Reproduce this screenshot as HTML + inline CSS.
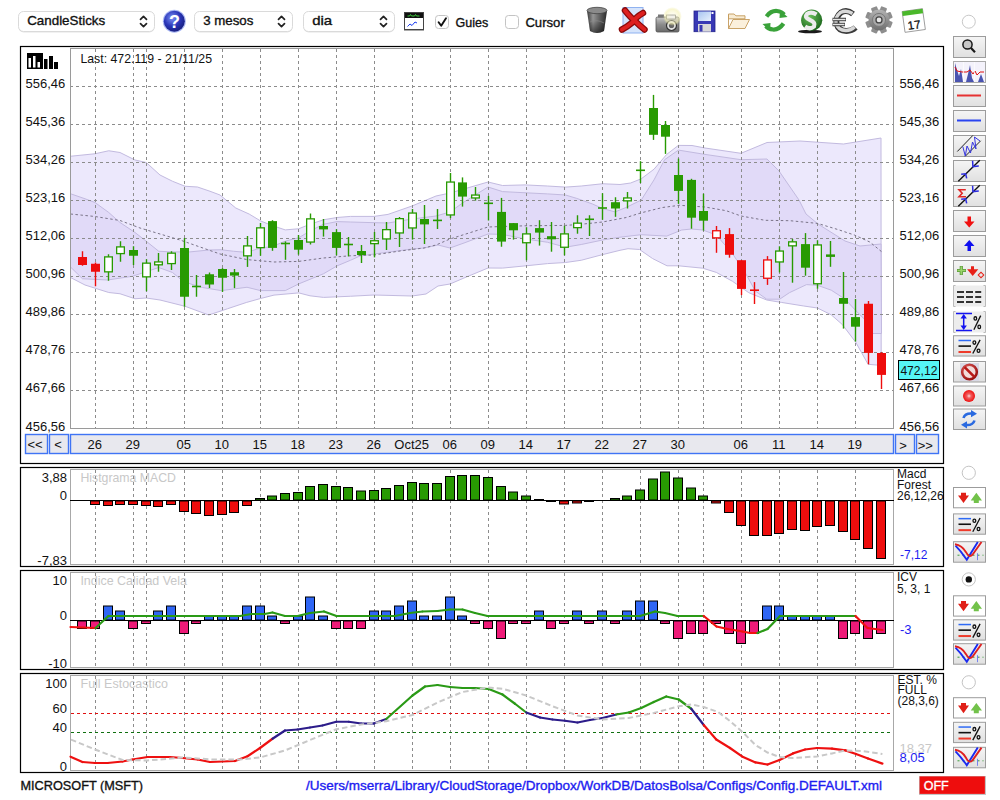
<!DOCTYPE html>
<html><head><meta charset="utf-8"><style>
html,body{margin:0;padding:0;background:#fff;width:1000px;height:800px;overflow:hidden}
svg{display:block;font-family:"Liberation Sans", sans-serif}
</style></head><body>
<svg width="1000" height="800" viewBox="0 0 1000 800">
<rect width="1000" height="800" fill="#fff"/>
<defs><radialGradient id="hg" cx="40%" cy="35%" r="70%"><stop offset="0" stop-color="#7d92f4"/><stop offset="0.55" stop-color="#2a36b8"/><stop offset="1" stop-color="#161c78"/></radialGradient><linearGradient id="btng" x1="0" y1="0" x2="0" y2="1"><stop offset="0" stop-color="#f5f5f5"/><stop offset="1" stop-color="#e0e0e0"/></linearGradient><linearGradient id="trg" x1="0" y1="0" x2="1" y2="0"><stop offset="0" stop-color="#3c3c3c"/><stop offset="0.3" stop-color="#9a9a9a"/><stop offset="0.6" stop-color="#6a6a6a"/><stop offset="1" stop-color="#2a2a2a"/></linearGradient><linearGradient id="trg2" x1="0" y1="0" x2="0" y2="1"><stop offset="0" stop-color="#000" stop-opacity="0"/><stop offset="0.5" stop-color="#000" stop-opacity="0.05"/><stop offset="1" stop-color="#000" stop-opacity="0.55"/></linearGradient><linearGradient id="camg" x1="0" y1="0" x2="0" y2="1"><stop offset="0" stop-color="#c8c8c8"/><stop offset="0.5" stop-color="#8c8c8c"/><stop offset="1" stop-color="#6a6a6a"/></linearGradient><radialGradient id="glow" cx="50%" cy="50%" r="50%"><stop offset="0" stop-color="#fffbe0" stop-opacity="0.2"/><stop offset="0.75" stop-color="#f4f0b0" stop-opacity="0.6"/><stop offset="1" stop-color="#eeea9a" stop-opacity="0"/></radialGradient><linearGradient id="flg" x1="0" y1="0" x2="1" y2="1"><stop offset="0" stop-color="#a8c4f0"/><stop offset="1" stop-color="#e8f0fc"/></linearGradient><radialGradient id="coin" cx="40%" cy="35%" r="65%"><stop offset="0" stop-color="#6ac05a"/><stop offset="1" stop-color="#1f6a1f"/></radialGradient><linearGradient id="gearg" x1="0" y1="0" x2="0" y2="1"><stop offset="0" stop-color="#b4b4b4"/><stop offset="1" stop-color="#6e6e6e"/></linearGradient><radialGradient id="nog" cx="40%" cy="35%" r="70%"><stop offset="0" stop-color="#f07070"/><stop offset="1" stop-color="#9a1010"/></radialGradient><radialGradient id="rcg" cx="50%" cy="50%" r="50%"><stop offset="0" stop-color="#ffd8d8"/><stop offset="0.35" stop-color="#f06060"/><stop offset="1" stop-color="#ee1010"/></radialGradient></defs>
<rect x="18.5" y="12.5" width="136" height="20" rx="5" fill="#e4e4e4"/>
<rect x="18.5" y="11.5" width="136" height="20" rx="5" fill="#fff" stroke="#dadada" stroke-width="1"/>
<text x="27.2" y="25.2" font-size="13" fill="#111" textLength="78" lengthAdjust="spacingAndGlyphs" stroke="#111" stroke-width="0.35">CandleSticks</text>
<path d="M140.5,19.3 L143.5,16.3 L146.5,19.3 M140.5,23.7 L143.5,26.7 L146.5,23.7" fill="none" stroke="#222" stroke-width="1.7" stroke-linecap="round" stroke-linejoin="round"/>
<circle cx="174.3" cy="21.2" r="11.5" fill="#aab8f4"/>
<circle cx="174.3" cy="21.2" r="10.5" fill="url(#hg)"/>
<text x="174.5" y="28.2" font-size="18" font-weight="bold" fill="#fff" text-anchor="middle">?</text>
<rect x="194.5" y="12.5" width="98" height="20" rx="5" fill="#e4e4e4"/>
<rect x="194.5" y="11.5" width="98" height="20" rx="5" fill="#fff" stroke="#dadada" stroke-width="1"/>
<text x="203.2" y="25.2" font-size="13" fill="#111" textLength="50.2" lengthAdjust="spacingAndGlyphs" stroke="#111" stroke-width="0.35">3 mesos</text>
<path d="M278.5,19.3 L281.5,16.3 L284.5,19.3 M278.5,23.7 L281.5,26.7 L284.5,23.7" fill="none" stroke="#222" stroke-width="1.7" stroke-linecap="round" stroke-linejoin="round"/>
<rect x="303.5" y="12.5" width="91" height="20" rx="5" fill="#e4e4e4"/>
<rect x="303.5" y="11.5" width="91" height="20" rx="5" fill="#fff" stroke="#dadada" stroke-width="1"/>
<text x="312.2" y="25.2" font-size="13" fill="#111" textLength="20" lengthAdjust="spacingAndGlyphs" stroke="#111" stroke-width="0.35">dia</text>
<path d="M380.5,19.3 L383.5,16.3 L386.5,19.3 M380.5,23.7 L383.5,26.7 L386.5,23.7" fill="none" stroke="#222" stroke-width="1.7" stroke-linecap="round" stroke-linejoin="round"/>
<rect x="404.5" y="12.5" width="19" height="17" fill="#fff" stroke="#444" stroke-width="1"/>
<rect x="405" y="13" width="18" height="5" fill="#111"/>
<path d="M407.5,16 h2 l1,-1.5 l1,1.5 h3 l1,-1.5 l1,1.5 h3" stroke="#3ad03a" stroke-width="1" fill="none"/>
<path d="M407.5,26.5 l2.5,-2.5 l2,1.5 l3,-3.5 l2,1" stroke="#1a3cf0" stroke-width="1" fill="none"/>
<line x1="404" y1="30.5" x2="424" y2="30.5" stroke="#aaa" stroke-width="1"/>
<rect x="435.5" y="15.5" width="13" height="13" rx="3" fill="#fff" stroke="#c4c4c4" stroke-width="1"/>
<path d="M438.6,22.2 l2.6,3.6 l4.8,-7.6" stroke="#111" stroke-width="1.9" fill="none" stroke-linecap="round" stroke-linejoin="round"/>
<text x="455.6" y="26.6" font-size="13" fill="#111" textLength="32.7" lengthAdjust="spacingAndGlyphs" stroke="#111" stroke-width="0.35">Guies</text>
<rect x="505.5" y="15.5" width="13" height="13" rx="3" fill="#fff" stroke="#c4c4c4" stroke-width="1"/>
<text x="525.4" y="26.6" font-size="13" fill="#111" textLength="39.4" lengthAdjust="spacingAndGlyphs" stroke="#111" stroke-width="0.35">Cursor</text>
<path d="M587,11 Q597,6 607,11 L604,31 Q597,35 590,31 Z" fill="url(#trg)"/>
<path d="M587,11 Q597,6 607,11 L604,31 Q597,35 590,31 Z" fill="url(#trg2)"/>
<ellipse cx="597" cy="10.5" rx="10" ry="3.2" fill="#8a8a8a" stroke="#444" stroke-width="0.8"/>
<path d="M590,22 Q597,19 604,23" stroke="#888" stroke-width="1" fill="none" opacity="0.6"/>
<rect x="623" y="7.5" width="20" height="25.5" fill="#d6e4fb" stroke="#8fb2f0" stroke-width="1"/>
<path d="M625,10.5 Q631,18 635,21 Q640,26 644.5,29.5" stroke="#8a0a0a" stroke-width="6.5" stroke-linecap="round" fill="none"/>
<path d="M643,13 Q636,17 633,22 Q627,27 622,29.5" stroke="#8a0a0a" stroke-width="6.5" stroke-linecap="round" fill="none"/>
<path d="M625,10.5 Q631,18 635,21 Q640,26 644.5,29.5" stroke="#dd2020" stroke-width="4" stroke-linecap="round" fill="none"/>
<path d="M643,13 Q636,17 633,22 Q627,27 622,29.5" stroke="#dd2020" stroke-width="4" stroke-linecap="round" fill="none"/>
<rect x="656" y="17" width="23" height="15" rx="1.5" fill="url(#camg)" stroke="#555" stroke-width="0.8"/>
<rect x="658" y="14.5" width="6" height="3" fill="#777"/>
<rect x="666.5" y="15" width="9" height="4" fill="#eee" stroke="#666" stroke-width="0.7"/>
<circle cx="671.5" cy="25.5" r="5" fill="#e0e0e0" stroke="#333" stroke-width="1.2"/>
<circle cx="671.5" cy="25.5" r="2.6" fill="#666"/>
<circle cx="672.4" cy="16.5" r="9.5" fill="url(#glow)"/>
<rect x="694" y="11" width="21" height="20.7" fill="#3838b4" stroke="#22228a" stroke-width="0.8"/>
<rect x="698" y="11.5" width="13" height="9.5" fill="url(#flg)"/>
<rect x="711.5" y="12" width="2" height="2" fill="#fff"/>
<rect x="698" y="24" width="13" height="7.7" fill="#d8d8d8"/>
<rect x="699.5" y="25" width="3" height="6.5" fill="#3838b4"/>
<path d="M728.5,14 h5.5 l2,1.8 h9 v3 h-16.5 z" fill="#f8ecd4" stroke="#c49a5a" stroke-width="0.9"/>
<path d="M728.5,28.5 V15 M728.5,28.5 L733,19.5 h16.5 l-4.5,9 z" fill="#fbf0dc" stroke="#c49a5a" stroke-width="0.9"/>
<path d="M766.5,16.5 Q771,10.5 777,11 Q782,11.5 784,14.5" stroke="#3aa23a" stroke-width="4.2" fill="none"/>
<path d="M783.5,23.5 Q779,30 773,29.5 Q768,29 766,26" stroke="#3aa23a" stroke-width="4.2" fill="none"/>
<path d="M780,10 L787.5,17 L779.5,18 z" fill="#3aa23a"/><path d="M770,31 L762.5,24 L770.5,23 z" fill="#3aa23a"/>
<ellipse cx="810" cy="31.5" rx="12" ry="1.8" fill="#1a1a1a"/>
<circle cx="811.7" cy="20.2" r="10.6" fill="url(#coin)"/>
<path d="M816.5,14.5 Q811,11 807,14 Q804,17.5 810,20 Q816,22.5 814,26.5 Q810,30 805,26.5" stroke="#ececec" stroke-width="4.2" fill="none"/>
<path d="M853,14 Q847,9 841,12.5 Q835.5,17 836.5,23.5 Q838.5,31 846.5,31 Q852,31 855.5,27.5" stroke="#3a3a3a" stroke-width="6" fill="none"/>
<path d="M852.5,13.5 Q846.5,9.5 840.5,12.5 Q835,17 836,23 Q838,30.5 846,30.5 Q851,30.5 854.5,27" stroke="#d8d8d8" stroke-width="3.4" fill="none"/>
<path d="M832.5,19.5 h13.5 M832.5,24.5 h12.5" stroke="#3a3a3a" stroke-width="3.4"/>
<path d="M833,19.5 h12.5 M833,24.5 h11.5" stroke="#e4e4e4" stroke-width="1.6"/>
<rect x="875.8" y="6.199999999999999" width="6.4" height="6" rx="1" fill="#8e8e8e" transform="rotate(22.5 879 19.9)"/><rect x="875.8" y="6.199999999999999" width="6.4" height="6" rx="1" fill="#8e8e8e" transform="rotate(67.5 879 19.9)"/><rect x="875.8" y="6.199999999999999" width="6.4" height="6" rx="1" fill="#8e8e8e" transform="rotate(112.5 879 19.9)"/><rect x="875.8" y="6.199999999999999" width="6.4" height="6" rx="1" fill="#8e8e8e" transform="rotate(157.5 879 19.9)"/><rect x="875.8" y="6.199999999999999" width="6.4" height="6" rx="1" fill="#8e8e8e" transform="rotate(202.5 879 19.9)"/><rect x="875.8" y="6.199999999999999" width="6.4" height="6" rx="1" fill="#8e8e8e" transform="rotate(247.5 879 19.9)"/><rect x="875.8" y="6.199999999999999" width="6.4" height="6" rx="1" fill="#8e8e8e" transform="rotate(292.5 879 19.9)"/><rect x="875.8" y="6.199999999999999" width="6.4" height="6" rx="1" fill="#8e8e8e" transform="rotate(337.5 879 19.9)"/>
<circle cx="879" cy="19.9" r="10.5" fill="url(#gearg)"/>
<circle cx="879" cy="19.9" r="6.5" fill="#a8a8a8" stroke="#7a7a7a" stroke-width="1"/>
<circle cx="879" cy="19.9" r="3" fill="#e8e8e8" stroke="#444" stroke-width="1.3"/>
<g transform="rotate(-8 913.8 20.5)"><rect x="903.5" y="10" width="20.5" height="21" fill="#fff" stroke="#999" stroke-width="0.9"/><rect x="903.5" y="10" width="20.5" height="4.5" fill="#4ab82a"/><text x="913.5" y="29" font-size="11.5" text-anchor="middle" fill="#111" stroke="#111" stroke-width="0.3">17</text></g>
<circle cx="968.8" cy="21.7" r="6.5" fill="#fff" stroke="#c8c8c8" stroke-width="1"/>
<rect x="20.5" y="46.5" width="923" height="417" fill="#fff" stroke="#000" stroke-width="1.2"/>
<polygon points="70.50,156.25 95.00,153.75 108.75,150.75 120.00,152.50 135.00,160.00 146.25,162.50 160.00,175.00 172.50,181.25 185.00,186.25 197.50,187.00 210.00,191.25 220.00,195.00 235.75,208.00 249.25,214.10 260.50,220.90 271.75,225.40 285.25,229.90 298.75,228.75 310.00,224.25 323.50,219.75 337.00,217.50 350.50,216.40 374.00,216.40 388.00,214.40 412.00,206.00 436.00,196.00 450.00,193.00 488.00,182.00 502.50,185.50 525.00,184.90 547.50,186.00 565.50,187.10 581.25,186.00 602.60,183.75 620.00,184.50 630.60,183.00 641.25,178.80 654.00,169.20 666.70,154.40 678.40,145.40 692.00,145.50 705.00,148.00 741.00,153.30 767.00,142.50 800.00,141.00 843.50,144.00 881.00,138.00 881.20,365.40 868.10,364.30 855.75,342.25 842.30,324.50 831.30,314.90 817.50,308.00 803.75,306.00 781.30,302.40 766.70,300.00 748.80,292.70 732.50,281.30 716.30,272.40 702.80,268.20 678.50,265.80 667.00,265.80 652.50,258.50 639.50,249.50 628.00,248.70 620.00,250.30 602.60,254.60 581.25,260.25 565.50,262.50 547.50,263.60 525.00,265.90 502.50,268.10 488.00,268.00 464.00,278.00 450.00,284.00 438.00,286.00 426.00,294.00 412.00,296.00 374.00,295.00 350.50,296.25 323.50,297.40 310.00,295.80 298.75,292.90 274.00,295.10 260.50,298.50 246.25,302.50 227.50,308.75 208.75,315.00 185.00,306.25 160.00,300.00 146.25,298.00 135.00,298.75 120.00,293.75 108.75,292.50 85.00,285.00 70.50,277.50" fill="#ece8fc" stroke="#c2badf" stroke-width="1"/>
<polygon points="70.50,193.75 85.00,198.75 95.00,202.50 108.75,212.50 120.00,222.50 135.00,232.50 146.25,241.25 158.75,251.25 171.25,251.90 190.00,251.90 208.75,250.00 221.25,249.75 233.50,251.25 247.00,252.40 260.50,247.90 271.75,246.75 285.25,241.10 298.75,237.75 310.00,231.00 323.50,224.25 337.00,221.60 350.50,222.00 364.00,222.40 388.00,223.00 412.00,219.00 436.00,216.00 450.00,212.00 464.00,202.00 488.00,187.00 502.50,191.60 525.00,192.75 547.50,193.90 565.50,195.00 576.75,198.40 592.50,204.00 602.60,208.50 615.00,211.90 626.25,207.40 641.25,200.00 654.00,179.90 664.60,159.70 678.40,150.10 705.00,154.40 741.00,159.70 767.00,159.00 779.00,171.00 799.00,200.00 806.00,214.00 818.00,224.00 845.00,241.00 860.00,246.00 881.00,244.00 881.50,333.50 873.00,333.50 869.80,330.00 864.30,319.00 856.00,310.80 845.00,299.10 831.30,290.20 817.50,285.30 806.50,284.60 789.40,292.70 779.70,299.20 766.70,299.20 755.30,291.00 745.50,273.20 732.50,253.70 716.30,235.00 702.80,230.00 691.50,229.00 681.70,230.00 666.70,236.10 641.25,234.70 620.00,237.20 602.60,240.00 581.25,244.50 565.50,247.20 547.50,242.25 525.00,238.90 502.50,234.40 488.00,234.00 464.00,243.00 450.00,248.00 438.00,245.00 424.00,248.00 412.00,249.00 374.00,254.00 360.00,256.00 350.50,260.25 337.00,265.90 323.50,273.75 298.75,283.90 285.25,290.60 260.50,290.60 247.00,287.25 221.25,290.60 202.50,287.50 190.00,283.75 180.00,278.75 172.50,272.50 158.75,267.50 140.00,273.75 132.50,276.25 107.50,280.00 82.50,278.75 70.50,267.00" fill="#e1daf8" stroke="#c2badf" stroke-width="1"/>
<path d="M95.5,49 V428 M133.5,49 V428 M146.5,49 V428 M184.5,49 V428 M222.5,49 V428 M260.5,49 V428 M298.5,49 V428 M336.5,49 V428 M374.5,49 V428 M412.5,49 V428 M450.5,49 V428 M488.5,49 V428 M526.5,49 V428 M564.5,49 V428 M602.5,49 V428 M640.5,49 V428 M678.5,49 V428 M703.5,49 V428 M741.5,49 V428 M779.5,49 V428 M817.5,49 V428 M855.5,49 V428" stroke="#8c8c8c" stroke-width="1" stroke-dasharray="3,3" fill="none"/>
<path d="M70,86.5 H894 M70,124.5 H894 M70,162.5 H894 M70,200.5 H894 M70,238.5 H894 M70,276.5 H894 M70,314.5 H894 M70,352.5 H894 M70,390.5 H894" stroke="#8c8c8c" stroke-width="1" stroke-dasharray="3,3" fill="none"/>
<polyline points="70.50,214.00 95.00,216.50 120.00,220.50 140.00,228.00 180.00,240.00 220.00,254.00 247.00,259.60 274.00,262.00 298.75,261.40 323.50,258.00 350.50,255.75 374.00,255.00 400.00,251.00 424.00,248.00 436.00,245.00 450.00,239.00 488.00,227.00 502.50,226.50 525.00,225.80 565.50,225.40 581.25,224.25 602.60,222.00 626.25,217.50 641.25,212.80 662.50,207.50 679.50,205.30 705.00,207.00 726.20,210.70 741.00,216.00 765.00,220.30 790.00,220.70 817.50,223.40 838.10,229.60 854.60,235.10 869.80,242.00 881.50,251.60" fill="none" stroke="#7a7488" stroke-width="1" stroke-dasharray="2.5,2.5"/>
<rect x="70.5" y="48.5" width="823" height="380" fill="none" stroke="#9a9a9a" stroke-width="1"/>
<line x1="82.5" y1="251.25" x2="82.5" y2="265.75" stroke="#ee0d0d" stroke-width="1.4"/><rect x="78.0" y="257" width="9" height="8.00" fill="#ee0d0d"/><line x1="95.5" y1="262.5" x2="95.5" y2="286.25" stroke="#ee0d0d" stroke-width="1.4"/><rect x="91.0" y="263.75" width="9" height="8.00" fill="#ee0d0d"/><line x1="108.5" y1="254.25" x2="108.5" y2="280.75" stroke="#289a02" stroke-width="1.4"/><rect x="104.65" y="256.90" width="7.7" height="14.95" fill="#fff" stroke="#289a02" stroke-width="1.3"/><line x1="120.5" y1="241.25" x2="120.5" y2="261.75" stroke="#289a02" stroke-width="1.4"/><rect x="116.65" y="246.90" width="7.7" height="6.70" fill="#fff" stroke="#289a02" stroke-width="1.3"/><line x1="133.5" y1="246.25" x2="133.5" y2="265" stroke="#289a02" stroke-width="1.4"/><rect x="129.0" y="250" width="9" height="5.75" fill="#289a02"/><line x1="146.5" y1="259.25" x2="146.5" y2="291.25" stroke="#289a02" stroke-width="1.4"/><rect x="142.65" y="263.15" width="7.7" height="13.70" fill="#fff" stroke="#289a02" stroke-width="1.3"/><line x1="158.5" y1="253" x2="158.5" y2="271.75" stroke="#289a02" stroke-width="1.4"/><rect x="154.65" y="261.92" width="7.7" height="2.90" fill="#fff" stroke="#289a02" stroke-width="1.3"/><line x1="171.5" y1="251.25" x2="171.5" y2="270" stroke="#289a02" stroke-width="1.4"/><rect x="167.65" y="253.15" width="7.7" height="10.45" fill="#fff" stroke="#289a02" stroke-width="1.3"/><line x1="184.5" y1="238" x2="184.5" y2="306.75" stroke="#289a02" stroke-width="1.4"/><rect x="180.0" y="248" width="9" height="48.75" fill="#289a02"/><line x1="196.5" y1="275" x2="196.5" y2="296.75" stroke="#289a02" stroke-width="1.4"/><line x1="192.0" y1="286.5" x2="201.0" y2="286.5" stroke="#289a02" stroke-width="1.6"/><line x1="209.5" y1="272.5" x2="209.5" y2="288" stroke="#289a02" stroke-width="1.4"/><rect x="205.0" y="274.25" width="9" height="10.25" fill="#289a02"/><line x1="222.5" y1="268.1" x2="222.5" y2="291.9" stroke="#289a02" stroke-width="1.4"/><rect x="218.0" y="269" width="9" height="8.75" fill="#289a02"/><line x1="234.5" y1="269" x2="234.5" y2="288.1" stroke="#289a02" stroke-width="1.4"/><rect x="230.0" y="272.25" width="9" height="3.35" fill="#289a02"/><line x1="247.5" y1="236" x2="247.5" y2="266.9" stroke="#289a02" stroke-width="1.4"/><rect x="243.65" y="245.90" width="7.7" height="9.95" fill="#fff" stroke="#289a02" stroke-width="1.3"/><line x1="260.5" y1="223" x2="260.5" y2="255.75" stroke="#289a02" stroke-width="1.4"/><rect x="256.65" y="227.85" width="7.7" height="19.80" fill="#fff" stroke="#289a02" stroke-width="1.3"/><line x1="272.5" y1="220.2" x2="272.5" y2="250.8" stroke="#289a02" stroke-width="1.4"/><rect x="268.0" y="221.1" width="9" height="26.80" fill="#289a02"/><line x1="285.5" y1="241.4" x2="285.5" y2="259.8" stroke="#289a02" stroke-width="1.4"/><line x1="281.0" y1="243.5" x2="290.0" y2="243.5" stroke="#289a02" stroke-width="1.6"/><line x1="298.5" y1="235" x2="298.5" y2="254.6" stroke="#289a02" stroke-width="1.4"/><rect x="294.0" y="240" width="9" height="9.70" fill="#289a02"/><line x1="310.5" y1="213.5" x2="310.5" y2="244.5" stroke="#289a02" stroke-width="1.4"/><rect x="306.65" y="218.85" width="7.7" height="23.20" fill="#fff" stroke="#289a02" stroke-width="1.3"/><line x1="323.5" y1="219" x2="323.5" y2="236.6" stroke="#289a02" stroke-width="1.4"/><rect x="319.0" y="226" width="9" height="3.40" fill="#289a02"/><line x1="336.5" y1="229.2" x2="336.5" y2="255.3" stroke="#289a02" stroke-width="1.4"/><rect x="332.0" y="232.1" width="9" height="15.80" fill="#289a02"/><line x1="348.5" y1="237" x2="348.5" y2="256.4" stroke="#289a02" stroke-width="1.4"/><line x1="344.0" y1="244.5" x2="353.0" y2="244.5" stroke="#289a02" stroke-width="1.6"/><line x1="361.5" y1="245" x2="361.5" y2="263" stroke="#289a02" stroke-width="1.4"/><rect x="357.0" y="251" width="9" height="4.00" fill="#289a02"/><line x1="374.5" y1="232" x2="374.5" y2="257.4" stroke="#289a02" stroke-width="1.4"/><rect x="370.65" y="240.75" width="7.7" height="2.90" fill="#fff" stroke="#289a02" stroke-width="1.3"/><line x1="386.5" y1="222" x2="386.5" y2="250" stroke="#289a02" stroke-width="1.4"/><rect x="382.65" y="229.65" width="7.7" height="9.30" fill="#fff" stroke="#289a02" stroke-width="1.3"/><line x1="399.5" y1="217" x2="399.5" y2="247" stroke="#289a02" stroke-width="1.4"/><rect x="395.65" y="218.65" width="7.7" height="14.30" fill="#fff" stroke="#289a02" stroke-width="1.3"/><line x1="412.5" y1="209" x2="412.5" y2="239.6" stroke="#289a02" stroke-width="1.4"/><rect x="408.65" y="213.05" width="7.7" height="14.90" fill="#fff" stroke="#289a02" stroke-width="1.3"/><line x1="424.5" y1="205" x2="424.5" y2="244" stroke="#289a02" stroke-width="1.4"/><rect x="420.0" y="219" width="9" height="5.40" fill="#289a02"/><line x1="437.5" y1="209" x2="437.5" y2="229" stroke="#289a02" stroke-width="1.4"/><line x1="433.0" y1="220.4" x2="442.0" y2="220.4" stroke="#289a02" stroke-width="1.6"/><line x1="450.5" y1="173" x2="450.5" y2="218" stroke="#289a02" stroke-width="1.4"/><rect x="446.65" y="182.05" width="7.7" height="32.90" fill="#fff" stroke="#289a02" stroke-width="1.3"/><line x1="462.5" y1="177.4" x2="462.5" y2="206.6" stroke="#289a02" stroke-width="1.4"/><rect x="458.0" y="182.4" width="9" height="14.20" fill="#289a02"/><line x1="475.5" y1="187" x2="475.5" y2="200.6" stroke="#289a02" stroke-width="1.4"/><rect x="471.65" y="195.05" width="7.7" height="2.90" fill="#fff" stroke="#289a02" stroke-width="1.3"/><line x1="488.5" y1="196" x2="488.5" y2="220.5" stroke="#289a02" stroke-width="1.4"/><line x1="484.0" y1="203.3" x2="493.0" y2="203.3" stroke="#289a02" stroke-width="1.6"/><line x1="501.5" y1="197.9" x2="501.5" y2="246.75" stroke="#289a02" stroke-width="1.4"/><rect x="497.0" y="211.9" width="9" height="29.70" fill="#289a02"/><line x1="513.5" y1="223.1" x2="513.5" y2="239.6" stroke="#289a02" stroke-width="1.4"/><rect x="509.0" y="223.1" width="9" height="7.20" fill="#289a02"/><line x1="526.5" y1="227.2" x2="526.5" y2="260.25" stroke="#289a02" stroke-width="1.4"/><rect x="522.65" y="233.90" width="7.7" height="8.85" fill="#fff" stroke="#289a02" stroke-width="1.3"/><line x1="539.5" y1="220.2" x2="539.5" y2="245.6" stroke="#289a02" stroke-width="1.4"/><rect x="535.0" y="228.1" width="9" height="4.50" fill="#289a02"/><line x1="551.5" y1="222" x2="551.5" y2="251.7" stroke="#289a02" stroke-width="1.4"/><rect x="547.0" y="236.2" width="9" height="3.10" fill="#289a02"/><line x1="564.5" y1="225.8" x2="564.5" y2="255.3" stroke="#289a02" stroke-width="1.4"/><rect x="560.65" y="233.90" width="7.7" height="13.35" fill="#fff" stroke="#289a02" stroke-width="1.3"/><line x1="577.5" y1="215.25" x2="577.5" y2="233.7" stroke="#289a02" stroke-width="1.4"/><rect x="573.65" y="223.15" width="7.7" height="4.50" fill="#fff" stroke="#289a02" stroke-width="1.3"/><line x1="589.5" y1="215.25" x2="589.5" y2="236" stroke="#289a02" stroke-width="1.4"/><line x1="585.0" y1="219.3" x2="594.0" y2="219.3" stroke="#289a02" stroke-width="1.6"/><line x1="602.5" y1="193.2" x2="602.5" y2="219.75" stroke="#289a02" stroke-width="1.4"/><line x1="598.0" y1="208" x2="607.0" y2="208" stroke="#289a02" stroke-width="1.6"/><line x1="615.5" y1="197.25" x2="615.5" y2="216.8" stroke="#289a02" stroke-width="1.4"/><rect x="611.0" y="202.2" width="9" height="6.30" fill="#289a02"/><line x1="627.5" y1="192" x2="627.5" y2="208.5" stroke="#289a02" stroke-width="1.4"/><rect x="623.65" y="197.95" width="7.7" height="2.90" fill="#fff" stroke="#289a02" stroke-width="1.3"/><line x1="640.5" y1="161.2" x2="640.5" y2="183" stroke="#289a02" stroke-width="1.4"/><line x1="636.0" y1="170.3" x2="645.0" y2="170.3" stroke="#289a02" stroke-width="1.6"/><line x1="653.5" y1="94.9" x2="653.5" y2="139.9" stroke="#289a02" stroke-width="1.4"/><rect x="649.0" y="108" width="9" height="26.80" fill="#289a02"/><line x1="665.5" y1="121" x2="665.5" y2="153.9" stroke="#289a02" stroke-width="1.4"/><rect x="661.0" y="125" width="9" height="11.70" fill="#289a02"/><line x1="678.5" y1="158.6" x2="678.5" y2="203.9" stroke="#289a02" stroke-width="1.4"/><rect x="674.0" y="175" width="9" height="15.90" fill="#289a02"/><line x1="691.5" y1="178.8" x2="691.5" y2="228.7" stroke="#289a02" stroke-width="1.4"/><rect x="687.0" y="179.9" width="9" height="37.80" fill="#289a02"/><line x1="703.5" y1="193.7" x2="703.5" y2="230.5" stroke="#289a02" stroke-width="1.4"/><rect x="699.0" y="211" width="9" height="9.70" fill="#289a02"/><line x1="716.5" y1="226" x2="716.5" y2="252.8" stroke="#ee0d0d" stroke-width="1.4"/><rect x="712.65" y="230.75" width="7.7" height="7.10" fill="#fff" stroke="#ee0d0d" stroke-width="1.3"/><line x1="729.5" y1="228.1" x2="729.5" y2="257.7" stroke="#ee0d0d" stroke-width="1.4"/><rect x="725.0" y="234.1" width="9" height="20.70" fill="#ee0d0d"/><line x1="741.5" y1="260.2" x2="741.5" y2="295.1" stroke="#ee0d0d" stroke-width="1.4"/><rect x="737.0" y="260.2" width="9" height="28.70" fill="#ee0d0d"/><line x1="754.5" y1="282.1" x2="754.5" y2="304" stroke="#ee0d0d" stroke-width="1.4"/><line x1="750.0" y1="290.2" x2="759.0" y2="290.2" stroke="#ee0d0d" stroke-width="1.6"/><line x1="767.5" y1="256.1" x2="767.5" y2="284.9" stroke="#ee0d0d" stroke-width="1.4"/><rect x="763.65" y="259.95" width="7.7" height="18.30" fill="#fff" stroke="#ee0d0d" stroke-width="1.3"/><line x1="779.5" y1="246.3" x2="779.5" y2="272.4" stroke="#289a02" stroke-width="1.4"/><rect x="775.65" y="251.05" width="7.7" height="10.90" fill="#fff" stroke="#289a02" stroke-width="1.3"/><line x1="792.5" y1="239" x2="792.5" y2="282.7" stroke="#289a02" stroke-width="1.4"/><rect x="788.65" y="241.85" width="7.7" height="4.00" fill="#fff" stroke="#289a02" stroke-width="1.3"/><line x1="805.5" y1="233.1" x2="805.5" y2="275.7" stroke="#289a02" stroke-width="1.4"/><rect x="801.0" y="244.1" width="9" height="23.60" fill="#289a02"/><line x1="817.5" y1="240.2" x2="817.5" y2="288.8" stroke="#289a02" stroke-width="1.4"/><rect x="813.65" y="244.95" width="7.7" height="38.80" fill="#fff" stroke="#289a02" stroke-width="1.3"/><line x1="830.5" y1="241" x2="830.5" y2="266.8" stroke="#289a02" stroke-width="1.4"/><rect x="826.0" y="254.4" width="9" height="2.50" fill="#289a02"/><line x1="843.5" y1="272" x2="843.5" y2="328.6" stroke="#289a02" stroke-width="1.4"/><rect x="839.0" y="298" width="9" height="5.80" fill="#289a02"/><line x1="855.5" y1="299" x2="855.5" y2="341.6" stroke="#289a02" stroke-width="1.4"/><rect x="851.0" y="317.1" width="9" height="9.60" fill="#289a02"/><line x1="868.5" y1="301" x2="868.5" y2="364.3" stroke="#ee0d0d" stroke-width="1.4"/><rect x="864.0" y="303.75" width="9" height="49.15" fill="#ee0d0d"/><line x1="881.5" y1="352.2" x2="881.5" y2="389" stroke="#ee0d0d" stroke-width="1.4"/><rect x="877.0" y="353" width="9" height="21.90" fill="#ee0d0d"/>
<text x="25.5" y="88.0" font-size="13" fill="#111">556,46</text>
<text x="899.5" y="88.0" font-size="13" fill="#111">556,46</text>
<text x="25.5" y="126.0" font-size="13" fill="#111">545,36</text>
<text x="899.5" y="126.0" font-size="13" fill="#111">545,36</text>
<text x="25.5" y="164.0" font-size="13" fill="#111">534,26</text>
<text x="899.5" y="164.0" font-size="13" fill="#111">534,26</text>
<text x="25.5" y="202.0" font-size="13" fill="#111">523,16</text>
<text x="899.5" y="202.0" font-size="13" fill="#111">523,16</text>
<text x="25.5" y="240.0" font-size="13" fill="#111">512,06</text>
<text x="899.5" y="240.0" font-size="13" fill="#111">512,06</text>
<text x="25.5" y="278.0" font-size="13" fill="#111">500,96</text>
<text x="899.5" y="278.0" font-size="13" fill="#111">500,96</text>
<text x="25.5" y="316.0" font-size="13" fill="#111">489,86</text>
<text x="899.5" y="316.0" font-size="13" fill="#111">489,86</text>
<text x="25.5" y="354.0" font-size="13" fill="#111">478,76</text>
<text x="899.5" y="354.0" font-size="13" fill="#111">478,76</text>
<text x="25.5" y="392.0" font-size="13" fill="#111">467,66</text>
<text x="899.5" y="392.0" font-size="13" fill="#111">467,66</text>
<text x="25.5" y="431.0" font-size="13" fill="#111">456,56</text>
<text x="899.5" y="431.0" font-size="13" fill="#111">456,56</text>
<rect x="898.5" y="360.5" width="41" height="19" fill="#55f5f5" stroke="#000" stroke-width="1"/>
<text x="900.4" y="375" font-size="13" fill="#111" textLength="37" lengthAdjust="spacingAndGlyphs">472,12</text>
<rect x="27" y="53" width="16" height="16" fill="#000"/>
<rect x="28.5" y="58" width="2.5" height="9.5" fill="#fff"/><rect x="33" y="56" width="2.5" height="11.5" fill="#fff"/><rect x="37.5" y="62" width="2.5" height="5.5" fill="#fff"/>
<rect x="44" y="59" width="3.5" height="10" fill="#000"/><rect x="49" y="56" width="4" height="13" fill="#000"/><rect x="54" y="62" width="4" height="7" fill="#000"/>
<text x="80.4" y="63" font-size="13" fill="#111" textLength="131.6" lengthAdjust="spacingAndGlyphs">Last: 472.119 - 21/11/25</text>
<rect x="25.5" y="434.5" width="22" height="19" fill="#e8e8ee" stroke="#3f74f5" stroke-width="1.4"/>
<text x="35" y="449" font-size="13" fill="#111" text-anchor="middle">&lt;&lt;</text>
<rect x="49.5" y="434.5" width="19" height="19" fill="#e8e8ee" stroke="#3f74f5" stroke-width="1.4"/>
<text x="58" y="449" font-size="13" fill="#111" text-anchor="middle">&lt;</text>
<rect x="70.5" y="434.5" width="823" height="19" fill="#e8e8ee" stroke="#3f74f5" stroke-width="1.4"/>
<rect x="895.5" y="434.5" width="19" height="19" fill="#e8e8ee" stroke="#3f74f5" stroke-width="1.4"/>
<text x="903" y="449.7" font-size="13" fill="#111" text-anchor="middle">&gt;</text>
<rect x="916.5" y="434.5" width="22" height="19" fill="#e8e8ee" stroke="#3f74f5" stroke-width="1.4"/>
<text x="925.3" y="449.7" font-size="13" fill="#111" text-anchor="middle">&gt;&gt;</text>
<text x="94.7" y="449" font-size="13" fill="#111" text-anchor="middle">26</text>
<text x="132.7" y="449" font-size="13" fill="#111" text-anchor="middle">29</text>
<text x="183.7" y="449" font-size="13" fill="#111" text-anchor="middle">05</text>
<text x="221.7" y="449" font-size="13" fill="#111" text-anchor="middle">10</text>
<text x="259.7" y="449" font-size="13" fill="#111" text-anchor="middle">15</text>
<text x="297.7" y="449" font-size="13" fill="#111" text-anchor="middle">18</text>
<text x="335.7" y="449" font-size="13" fill="#111" text-anchor="middle">23</text>
<text x="373.7" y="449" font-size="13" fill="#111" text-anchor="middle">26</text>
<text x="411.7" y="449" font-size="13" fill="#111" text-anchor="middle">Oct25</text>
<text x="449.7" y="449" font-size="13" fill="#111" text-anchor="middle">06</text>
<text x="487.7" y="449" font-size="13" fill="#111" text-anchor="middle">09</text>
<text x="525.7" y="449" font-size="13" fill="#111" text-anchor="middle">14</text>
<text x="563.7" y="449" font-size="13" fill="#111" text-anchor="middle">17</text>
<text x="601.7" y="449" font-size="13" fill="#111" text-anchor="middle">22</text>
<text x="639.7" y="449" font-size="13" fill="#111" text-anchor="middle">27</text>
<text x="677.7" y="449" font-size="13" fill="#111" text-anchor="middle">30</text>
<text x="740.7" y="449" font-size="13" fill="#111" text-anchor="middle">06</text>
<text x="778.7" y="449" font-size="13" fill="#111" text-anchor="middle">11</text>
<text x="816.7" y="449" font-size="13" fill="#111" text-anchor="middle">14</text>
<text x="854.7" y="449" font-size="13" fill="#111" text-anchor="middle">19</text>
<rect x="20.5" y="467.5" width="923" height="99" fill="#fff" stroke="#000" stroke-width="1.2"/>
<rect x="70.5" y="469.5" width="823" height="95" fill="none" stroke="#a8a8a8" stroke-width="1"/>
<text x="80.4" y="482" font-size="13" fill="#c8c8c8" textLength="95.6" lengthAdjust="spacingAndGlyphs">Histgrama MACD</text>
<path d="M95.5,470 V564 M133.5,470 V564 M146.5,470 V564 M184.5,470 V564 M222.5,470 V564 M260.5,470 V564 M298.5,470 V564 M336.5,470 V564 M374.5,470 V564 M412.5,470 V564 M450.5,470 V564 M488.5,470 V564 M526.5,470 V564 M564.5,470 V564 M602.5,470 V564 M640.5,470 V564 M678.5,470 V564 M703.5,470 V564 M741.5,470 V564 M779.5,470 V564 M817.5,470 V564 M855.5,470 V564" stroke="#8c8c8c" stroke-width="1" stroke-dasharray="3,3" fill="none"/>
<line x1="70" y1="500.5" x2="894" y2="500.5" stroke="#000" stroke-width="1.1"/>
<rect x="90.5" y="501.00" width="9" height="3.50" fill="#ee0d0d" stroke="#000" stroke-width="1"/><rect x="103.5" y="501.00" width="9" height="4.50" fill="#ee0d0d" stroke="#000" stroke-width="1"/><rect x="115.5" y="501.00" width="9" height="3.50" fill="#ee0d0d" stroke="#000" stroke-width="1"/><rect x="128.5" y="501.00" width="9" height="3.50" fill="#ee0d0d" stroke="#000" stroke-width="1"/><rect x="141.5" y="501.00" width="9" height="4.50" fill="#ee0d0d" stroke="#000" stroke-width="1"/><rect x="153.5" y="501.00" width="9" height="5.50" fill="#ee0d0d" stroke="#000" stroke-width="1"/><rect x="166.5" y="501.00" width="9" height="3.50" fill="#ee0d0d" stroke="#000" stroke-width="1"/><rect x="179.5" y="501.00" width="9" height="10.50" fill="#ee0d0d" stroke="#000" stroke-width="1"/><rect x="191.5" y="501.00" width="9" height="12.50" fill="#ee0d0d" stroke="#000" stroke-width="1"/><rect x="204.5" y="501.00" width="9" height="14.50" fill="#ee0d0d" stroke="#000" stroke-width="1"/><rect x="217.5" y="501.00" width="9" height="13.50" fill="#ee0d0d" stroke="#000" stroke-width="1"/><rect x="229.5" y="501.00" width="9" height="11.50" fill="#ee0d0d" stroke="#000" stroke-width="1"/><rect x="242.5" y="501.00" width="9" height="4.50" fill="#ee0d0d" stroke="#000" stroke-width="1"/><rect x="255.5" y="498.50" width="9" height="1.50" fill="#289a02" stroke="#000" stroke-width="1"/><rect x="267.5" y="496.00" width="9" height="4.00" fill="#289a02" stroke="#000" stroke-width="1"/><rect x="280.5" y="493.50" width="9" height="6.50" fill="#289a02" stroke="#000" stroke-width="1"/><rect x="293.5" y="492.50" width="9" height="7.50" fill="#289a02" stroke="#000" stroke-width="1"/><rect x="305.5" y="486.50" width="9" height="13.50" fill="#289a02" stroke="#000" stroke-width="1"/><rect x="318.5" y="484.50" width="9" height="15.50" fill="#289a02" stroke="#000" stroke-width="1"/><rect x="331.5" y="486.50" width="9" height="13.50" fill="#289a02" stroke="#000" stroke-width="1"/><rect x="343.5" y="487.50" width="9" height="12.50" fill="#289a02" stroke="#000" stroke-width="1"/><rect x="356.5" y="491.00" width="9" height="9.00" fill="#289a02" stroke="#000" stroke-width="1"/><rect x="369.5" y="490.50" width="9" height="9.50" fill="#289a02" stroke="#000" stroke-width="1"/><rect x="381.5" y="488.50" width="9" height="11.50" fill="#289a02" stroke="#000" stroke-width="1"/><rect x="394.5" y="485.50" width="9" height="14.50" fill="#289a02" stroke="#000" stroke-width="1"/><rect x="407.5" y="482.50" width="9" height="17.50" fill="#289a02" stroke="#000" stroke-width="1"/><rect x="419.5" y="483.50" width="9" height="16.50" fill="#289a02" stroke="#000" stroke-width="1"/><rect x="432.5" y="483.50" width="9" height="16.50" fill="#289a02" stroke="#000" stroke-width="1"/><rect x="445.5" y="476.50" width="9" height="23.50" fill="#289a02" stroke="#000" stroke-width="1"/><rect x="457.5" y="475.50" width="9" height="24.50" fill="#289a02" stroke="#000" stroke-width="1"/><rect x="470.5" y="475.50" width="9" height="24.50" fill="#289a02" stroke="#000" stroke-width="1"/><rect x="483.5" y="477.50" width="9" height="22.50" fill="#289a02" stroke="#000" stroke-width="1"/><rect x="496.5" y="486.50" width="9" height="13.50" fill="#289a02" stroke="#000" stroke-width="1"/><rect x="508.5" y="492.00" width="9" height="8.00" fill="#289a02" stroke="#000" stroke-width="1"/><rect x="521.5" y="496.00" width="9" height="4.00" fill="#289a02" stroke="#000" stroke-width="1"/><rect x="534.5" y="499.50" width="9" height="0.50" fill="#289a02" stroke="#000" stroke-width="1"/><rect x="546.5" y="501.00" width="9" height="0.50" fill="#ee0d0d" stroke="#000" stroke-width="1"/><rect x="559.5" y="501.00" width="9" height="3.00" fill="#ee0d0d" stroke="#000" stroke-width="1"/><rect x="572.5" y="501.00" width="9" height="2.00" fill="#ee0d0d" stroke="#000" stroke-width="1"/><rect x="584.5" y="501.00" width="9" height="0.50" fill="#ee0d0d" stroke="#000" stroke-width="1"/><rect x="610.5" y="498.50" width="9" height="1.50" fill="#289a02" stroke="#000" stroke-width="1"/><rect x="622.5" y="496.00" width="9" height="4.00" fill="#289a02" stroke="#000" stroke-width="1"/><rect x="635.5" y="490.00" width="9" height="10.00" fill="#289a02" stroke="#000" stroke-width="1"/><rect x="648.5" y="479.00" width="9" height="21.00" fill="#289a02" stroke="#000" stroke-width="1"/><rect x="660.5" y="472.00" width="9" height="28.00" fill="#289a02" stroke="#000" stroke-width="1"/><rect x="673.5" y="478.00" width="9" height="22.00" fill="#289a02" stroke="#000" stroke-width="1"/><rect x="686.5" y="488.00" width="9" height="12.00" fill="#289a02" stroke="#000" stroke-width="1"/><rect x="698.5" y="496.00" width="9" height="4.00" fill="#289a02" stroke="#000" stroke-width="1"/><rect x="711.5" y="501.00" width="9" height="2.00" fill="#ee0d0d" stroke="#000" stroke-width="1"/><rect x="724.5" y="501.00" width="9" height="11.50" fill="#ee0d0d" stroke="#000" stroke-width="1"/><rect x="736.5" y="501.00" width="9" height="24.50" fill="#ee0d0d" stroke="#000" stroke-width="1"/><rect x="749.5" y="501.00" width="9" height="34.50" fill="#ee0d0d" stroke="#000" stroke-width="1"/><rect x="762.5" y="501.00" width="9" height="34.50" fill="#ee0d0d" stroke="#000" stroke-width="1"/><rect x="774.5" y="501.00" width="9" height="32.50" fill="#ee0d0d" stroke="#000" stroke-width="1"/><rect x="787.5" y="501.00" width="9" height="28.50" fill="#ee0d0d" stroke="#000" stroke-width="1"/><rect x="800.5" y="501.00" width="9" height="29.50" fill="#ee0d0d" stroke="#000" stroke-width="1"/><rect x="812.5" y="501.00" width="9" height="25.50" fill="#ee0d0d" stroke="#000" stroke-width="1"/><rect x="825.5" y="501.00" width="9" height="24.50" fill="#ee0d0d" stroke="#000" stroke-width="1"/><rect x="838.5" y="501.00" width="9" height="30.50" fill="#ee0d0d" stroke="#000" stroke-width="1"/><rect x="850.5" y="501.00" width="9" height="38.50" fill="#ee0d0d" stroke="#000" stroke-width="1"/><rect x="863.5" y="501.00" width="9" height="47.50" fill="#ee0d0d" stroke="#000" stroke-width="1"/><rect x="876.5" y="501.00" width="9" height="57.50" fill="#ee0d0d" stroke="#000" stroke-width="1"/>
<text x="67" y="482" font-size="13" fill="#111" text-anchor="end">3,88</text>
<text x="67" y="500" font-size="13" fill="#111" text-anchor="end">0</text>
<text x="67" y="565" font-size="13" fill="#111" text-anchor="end">-7,83</text>
<text x="897" y="477.5" font-size="12" fill="#111">Macd</text>
<text x="897" y="488.5" font-size="12" fill="#111">Forest</text>
<text x="897" y="500" font-size="12" fill="#111">26,12,26</text>
<text x="900" y="559" font-size="12" fill="#1c1cf0">-7,12</text>
<rect x="20.5" y="570.5" width="923" height="99" fill="#fff" stroke="#000" stroke-width="1.2"/>
<rect x="70.5" y="572.5" width="823" height="95" fill="none" stroke="#a8a8a8" stroke-width="1"/>
<text x="80.4" y="585" font-size="13" fill="#c8c8c8" textLength="106.6" lengthAdjust="spacingAndGlyphs">Indice Calidad Vela</text>
<path d="M95.5,573 V667 M133.5,573 V667 M146.5,573 V667 M184.5,573 V667 M222.5,573 V667 M260.5,573 V667 M298.5,573 V667 M336.5,573 V667 M374.5,573 V667 M412.5,573 V667 M450.5,573 V667 M488.5,573 V667 M526.5,573 V667 M564.5,573 V667 M602.5,573 V667 M640.5,573 V667 M678.5,573 V667 M703.5,573 V667 M741.5,573 V667 M779.5,573 V667 M817.5,573 V667 M855.5,573 V667" stroke="#8c8c8c" stroke-width="1" stroke-dasharray="3,3" fill="none"/>
<line x1="70" y1="620.5" x2="894" y2="620.5" stroke="#000" stroke-width="1.1"/>
<rect x="77.5" y="621.00" width="9" height="7.50" fill="#ee1a78" stroke="#000" stroke-width="1"/><rect x="90.5" y="621.00" width="9" height="7.50" fill="#ee1a78" stroke="#000" stroke-width="1"/><rect x="103.5" y="606.00" width="9" height="14.00" fill="#2f66f5" stroke="#000" stroke-width="1"/><rect x="115.5" y="611.00" width="9" height="9.00" fill="#2f66f5" stroke="#000" stroke-width="1"/><rect x="128.5" y="621.00" width="9" height="7.50" fill="#ee1a78" stroke="#000" stroke-width="1"/><rect x="141.5" y="621.00" width="9" height="2.50" fill="#ee1a78" stroke="#000" stroke-width="1"/><rect x="153.5" y="611.00" width="9" height="9.00" fill="#2f66f5" stroke="#000" stroke-width="1"/><rect x="166.5" y="606.00" width="9" height="14.00" fill="#2f66f5" stroke="#000" stroke-width="1"/><rect x="179.5" y="621.00" width="9" height="12.50" fill="#ee1a78" stroke="#000" stroke-width="1"/><rect x="191.5" y="621.00" width="9" height="2.50" fill="#ee1a78" stroke="#000" stroke-width="1"/><rect x="204.5" y="616.50" width="9" height="3.50" fill="#2f66f5" stroke="#000" stroke-width="1"/><rect x="217.5" y="616.50" width="9" height="3.50" fill="#2f66f5" stroke="#000" stroke-width="1"/><rect x="229.5" y="616.50" width="9" height="3.50" fill="#2f66f5" stroke="#000" stroke-width="1"/><rect x="242.5" y="606.00" width="9" height="14.00" fill="#2f66f5" stroke="#000" stroke-width="1"/><rect x="255.5" y="606.00" width="9" height="14.00" fill="#2f66f5" stroke="#000" stroke-width="1"/><rect x="267.5" y="616.00" width="9" height="4.00" fill="#2f66f5" stroke="#000" stroke-width="1"/><rect x="280.5" y="621.00" width="9" height="2.50" fill="#ee1a78" stroke="#000" stroke-width="1"/><rect x="293.5" y="616.00" width="9" height="4.00" fill="#2f66f5" stroke="#000" stroke-width="1"/><rect x="305.5" y="597.00" width="9" height="23.00" fill="#2f66f5" stroke="#000" stroke-width="1"/><rect x="318.5" y="616.00" width="9" height="4.00" fill="#2f66f5" stroke="#000" stroke-width="1"/><rect x="331.5" y="621.00" width="9" height="7.50" fill="#ee1a78" stroke="#000" stroke-width="1"/><rect x="343.5" y="621.00" width="9" height="7.50" fill="#ee1a78" stroke="#000" stroke-width="1"/><rect x="356.5" y="621.00" width="9" height="7.50" fill="#ee1a78" stroke="#000" stroke-width="1"/><rect x="369.5" y="611.00" width="9" height="9.00" fill="#2f66f5" stroke="#000" stroke-width="1"/><rect x="381.5" y="611.00" width="9" height="9.00" fill="#2f66f5" stroke="#000" stroke-width="1"/><rect x="394.5" y="606.00" width="9" height="14.00" fill="#2f66f5" stroke="#000" stroke-width="1"/><rect x="407.5" y="601.00" width="9" height="19.00" fill="#2f66f5" stroke="#000" stroke-width="1"/><rect x="419.5" y="616.00" width="9" height="4.00" fill="#2f66f5" stroke="#000" stroke-width="1"/><rect x="432.5" y="616.00" width="9" height="4.00" fill="#2f66f5" stroke="#000" stroke-width="1"/><rect x="445.5" y="597.00" width="9" height="23.00" fill="#2f66f5" stroke="#000" stroke-width="1"/><rect x="457.5" y="616.00" width="9" height="4.00" fill="#2f66f5" stroke="#000" stroke-width="1"/><rect x="470.5" y="621.00" width="9" height="2.50" fill="#ee1a78" stroke="#000" stroke-width="1"/><rect x="483.5" y="621.00" width="9" height="7.50" fill="#ee1a78" stroke="#000" stroke-width="1"/><rect x="496.5" y="621.00" width="9" height="17.50" fill="#ee1a78" stroke="#000" stroke-width="1"/><rect x="508.5" y="621.00" width="9" height="2.50" fill="#ee1a78" stroke="#000" stroke-width="1"/><rect x="521.5" y="621.00" width="9" height="2.50" fill="#ee1a78" stroke="#000" stroke-width="1"/><rect x="534.5" y="611.00" width="9" height="9.00" fill="#2f66f5" stroke="#000" stroke-width="1"/><rect x="546.5" y="621.00" width="9" height="7.50" fill="#ee1a78" stroke="#000" stroke-width="1"/><rect x="559.5" y="621.00" width="9" height="2.50" fill="#ee1a78" stroke="#000" stroke-width="1"/><rect x="572.5" y="611.00" width="9" height="9.00" fill="#2f66f5" stroke="#000" stroke-width="1"/><rect x="584.5" y="621.00" width="9" height="2.50" fill="#ee1a78" stroke="#000" stroke-width="1"/><rect x="597.5" y="611.00" width="9" height="9.00" fill="#2f66f5" stroke="#000" stroke-width="1"/><rect x="610.5" y="621.00" width="9" height="2.50" fill="#ee1a78" stroke="#000" stroke-width="1"/><rect x="622.5" y="611.00" width="9" height="9.00" fill="#2f66f5" stroke="#000" stroke-width="1"/><rect x="635.5" y="601.00" width="9" height="19.00" fill="#2f66f5" stroke="#000" stroke-width="1"/><rect x="648.5" y="601.00" width="9" height="19.00" fill="#2f66f5" stroke="#000" stroke-width="1"/><rect x="660.5" y="621.00" width="9" height="2.50" fill="#ee1a78" stroke="#000" stroke-width="1"/><rect x="673.5" y="621.00" width="9" height="17.50" fill="#ee1a78" stroke="#000" stroke-width="1"/><rect x="686.5" y="621.00" width="9" height="12.50" fill="#ee1a78" stroke="#000" stroke-width="1"/><rect x="698.5" y="621.00" width="9" height="12.50" fill="#ee1a78" stroke="#000" stroke-width="1"/><rect x="711.5" y="621.00" width="9" height="2.50" fill="#ee1a78" stroke="#000" stroke-width="1"/><rect x="724.5" y="621.00" width="9" height="12.50" fill="#ee1a78" stroke="#000" stroke-width="1"/><rect x="736.5" y="621.00" width="9" height="22.50" fill="#ee1a78" stroke="#000" stroke-width="1"/><rect x="749.5" y="621.00" width="9" height="12.50" fill="#ee1a78" stroke="#000" stroke-width="1"/><rect x="762.5" y="606.00" width="9" height="14.00" fill="#2f66f5" stroke="#000" stroke-width="1"/><rect x="774.5" y="606.00" width="9" height="14.00" fill="#2f66f5" stroke="#000" stroke-width="1"/><rect x="787.5" y="616.50" width="9" height="3.50" fill="#2f66f5" stroke="#000" stroke-width="1"/><rect x="800.5" y="616.50" width="9" height="3.50" fill="#2f66f5" stroke="#000" stroke-width="1"/><rect x="812.5" y="616.50" width="9" height="3.50" fill="#2f66f5" stroke="#000" stroke-width="1"/><rect x="825.5" y="616.50" width="9" height="3.50" fill="#2f66f5" stroke="#000" stroke-width="1"/><rect x="838.5" y="621.00" width="9" height="17.50" fill="#ee1a78" stroke="#000" stroke-width="1"/><rect x="850.5" y="621.00" width="9" height="12.50" fill="#ee1a78" stroke="#000" stroke-width="1"/><rect x="863.5" y="621.00" width="9" height="17.50" fill="#ee1a78" stroke="#000" stroke-width="1"/><rect x="876.5" y="621.00" width="9" height="12.50" fill="#ee1a78" stroke="#000" stroke-width="1"/>
<line x1="70.5" y1="627" x2="95.5" y2="628" stroke="#f01010" stroke-width="2.2" stroke-linecap="round"/><line x1="95.5" y1="628" x2="108.5" y2="616" stroke="#2a9a16" stroke-width="2.2" stroke-linecap="round"/><line x1="108.5" y1="616" x2="240" y2="616" stroke="#2a9a16" stroke-width="2.2" stroke-linecap="round"/><line x1="240" y1="616" x2="251.5" y2="614" stroke="#2a9a16" stroke-width="2.2" stroke-linecap="round"/><line x1="251.5" y1="614" x2="264.5" y2="614" stroke="#2a9a16" stroke-width="2.2" stroke-linecap="round"/><line x1="264.5" y1="614" x2="272.5" y2="612.5" stroke="#2a9a16" stroke-width="2.2" stroke-linecap="round"/><line x1="272.5" y1="612.5" x2="285" y2="616" stroke="#2a9a16" stroke-width="2.2" stroke-linecap="round"/><line x1="285" y1="616" x2="297.5" y2="616" stroke="#2a9a16" stroke-width="2.2" stroke-linecap="round"/><line x1="297.5" y1="616" x2="310" y2="613" stroke="#2a9a16" stroke-width="2.2" stroke-linecap="round"/><line x1="310" y1="613" x2="324" y2="611.5" stroke="#2a9a16" stroke-width="2.2" stroke-linecap="round"/><line x1="324" y1="611.5" x2="336.5" y2="616" stroke="#2a9a16" stroke-width="2.2" stroke-linecap="round"/><line x1="336.5" y1="616" x2="395" y2="616" stroke="#2a9a16" stroke-width="2.2" stroke-linecap="round"/><line x1="395" y1="616" x2="410" y2="613" stroke="#2a9a16" stroke-width="2.2" stroke-linecap="round"/><line x1="410" y1="613" x2="422.5" y2="611.5" stroke="#2a9a16" stroke-width="2.2" stroke-linecap="round"/><line x1="422.5" y1="611.5" x2="437.5" y2="611" stroke="#2a9a16" stroke-width="2.2" stroke-linecap="round"/><line x1="437.5" y1="611" x2="450" y2="609.5" stroke="#2a9a16" stroke-width="2.2" stroke-linecap="round"/><line x1="450" y1="609.5" x2="462.5" y2="609.5" stroke="#2a9a16" stroke-width="2.2" stroke-linecap="round"/><line x1="462.5" y1="609.5" x2="475" y2="613" stroke="#2a9a16" stroke-width="2.2" stroke-linecap="round"/><line x1="475" y1="613" x2="487.5" y2="616" stroke="#2a9a16" stroke-width="2.2" stroke-linecap="round"/><line x1="487.5" y1="616" x2="640" y2="616" stroke="#2a9a16" stroke-width="2.2" stroke-linecap="round"/><line x1="640" y1="616" x2="655" y2="611.5" stroke="#2a9a16" stroke-width="2.2" stroke-linecap="round"/><line x1="655" y1="611.5" x2="665" y2="613" stroke="#2a9a16" stroke-width="2.2" stroke-linecap="round"/><line x1="665" y1="613" x2="677.5" y2="616" stroke="#2a9a16" stroke-width="2.2" stroke-linecap="round"/><line x1="677.5" y1="616" x2="703.75" y2="616" stroke="#2a9a16" stroke-width="2.2" stroke-linecap="round"/><line x1="703.75" y1="616" x2="716.5" y2="626.5" stroke="#f01010" stroke-width="2.2" stroke-linecap="round"/><line x1="716.5" y1="626.5" x2="727.5" y2="629" stroke="#f01010" stroke-width="2.2" stroke-linecap="round"/><line x1="727.5" y1="629" x2="742.5" y2="631.5" stroke="#f01010" stroke-width="2.2" stroke-linecap="round"/><line x1="742.5" y1="631.5" x2="750" y2="633" stroke="#f01010" stroke-width="2.2" stroke-linecap="round"/><line x1="750" y1="633" x2="757.5" y2="633" stroke="#f01010" stroke-width="2.2" stroke-linecap="round"/><line x1="757.5" y1="633" x2="767.5" y2="629" stroke="#2a9a16" stroke-width="2.2" stroke-linecap="round"/><line x1="767.5" y1="629" x2="780" y2="616" stroke="#2a9a16" stroke-width="2.2" stroke-linecap="round"/><line x1="780" y1="616" x2="855.5" y2="616" stroke="#2a9a16" stroke-width="2.2" stroke-linecap="round"/><line x1="855.5" y1="616" x2="867.5" y2="628" stroke="#f01010" stroke-width="2.2" stroke-linecap="round"/><line x1="867.5" y1="628" x2="882.5" y2="630" stroke="#f01010" stroke-width="2.2" stroke-linecap="round"/>
<text x="67" y="585" font-size="13" fill="#111" text-anchor="end">10</text>
<text x="67" y="620" font-size="13" fill="#111" text-anchor="end">0</text>
<text x="67" y="668" font-size="13" fill="#111" text-anchor="end">-10</text>
<text x="897" y="581" font-size="12" fill="#111">ICV</text>
<text x="897" y="592.5" font-size="12" fill="#111">5, 3, 1</text>
<text x="900" y="633.5" font-size="13" fill="#1c1cf0">-3</text>
<rect x="20.5" y="673.5" width="923" height="99" fill="#fff" stroke="#000" stroke-width="1.2"/>
<rect x="70.5" y="675.5" width="823" height="95" fill="none" stroke="#a8a8a8" stroke-width="1"/>
<text x="80.5" y="688" font-size="13" fill="#c8c8c8" textLength="87.5" lengthAdjust="spacingAndGlyphs">Full Estocastico</text>
<path d="M95.5,676 V770 M133.5,676 V770 M146.5,676 V770 M184.5,676 V770 M222.5,676 V770 M260.5,676 V770 M298.5,676 V770 M336.5,676 V770 M374.5,676 V770 M412.5,676 V770 M450.5,676 V770 M488.5,676 V770 M526.5,676 V770 M564.5,676 V770 M602.5,676 V770 M640.5,676 V770 M678.5,676 V770 M703.5,676 V770 M741.5,676 V770 M779.5,676 V770 M817.5,676 V770 M855.5,676 V770" stroke="#8c8c8c" stroke-width="1" stroke-dasharray="3,3" fill="none"/>
<line x1="71" y1="713.5" x2="893" y2="713.5" stroke="#e01010" stroke-width="1" stroke-dasharray="3,3"/>
<line x1="71" y1="732.5" x2="893" y2="732.5" stroke="#107010" stroke-width="1" stroke-dasharray="3,3"/>
<line x1="70.5" y1="756.75" x2="82.5" y2="762" stroke="#ee1010" stroke-width="2.2" stroke-linecap="round"/><line x1="82.5" y1="762" x2="95" y2="763" stroke="#ee1010" stroke-width="2.2" stroke-linecap="round"/><line x1="95" y1="763" x2="107.5" y2="763" stroke="#ee1010" stroke-width="2.2" stroke-linecap="round"/><line x1="107.5" y1="763" x2="122.5" y2="761.5" stroke="#ee1010" stroke-width="2.2" stroke-linecap="round"/><line x1="122.5" y1="761.5" x2="132.5" y2="759.5" stroke="#ee1010" stroke-width="2.2" stroke-linecap="round"/><line x1="132.5" y1="759.5" x2="147.5" y2="757" stroke="#ee1010" stroke-width="2.2" stroke-linecap="round"/><line x1="147.5" y1="757" x2="170" y2="757" stroke="#ee1010" stroke-width="2.2" stroke-linecap="round"/><line x1="170" y1="757" x2="182.5" y2="758" stroke="#ee1010" stroke-width="2.2" stroke-linecap="round"/><line x1="182.5" y1="758" x2="197.5" y2="759.5" stroke="#ee1010" stroke-width="2.2" stroke-linecap="round"/><line x1="197.5" y1="759.5" x2="210" y2="762" stroke="#ee1010" stroke-width="2.2" stroke-linecap="round"/><line x1="210" y1="762" x2="235" y2="761" stroke="#ee1010" stroke-width="2.2" stroke-linecap="round"/><line x1="235" y1="761" x2="247.5" y2="756.25" stroke="#ee1010" stroke-width="2.2" stroke-linecap="round"/><line x1="247.5" y1="756.25" x2="260" y2="748" stroke="#ee1010" stroke-width="2.2" stroke-linecap="round"/><line x1="260" y1="748" x2="272.5" y2="738.75" stroke="#ee1010" stroke-width="2.2" stroke-linecap="round"/><line x1="272.5" y1="738.75" x2="285" y2="730.5" stroke="#2c1c8a" stroke-width="2.2" stroke-linecap="round"/><line x1="285" y1="730.5" x2="297.5" y2="729.5" stroke="#2c1c8a" stroke-width="2.2" stroke-linecap="round"/><line x1="297.5" y1="729.5" x2="310" y2="727.5" stroke="#2c1c8a" stroke-width="2.2" stroke-linecap="round"/><line x1="310" y1="727.5" x2="322.5" y2="725.5" stroke="#2c1c8a" stroke-width="2.2" stroke-linecap="round"/><line x1="322.5" y1="725.5" x2="336.25" y2="721.75" stroke="#2c1c8a" stroke-width="2.2" stroke-linecap="round"/><line x1="336.25" y1="721.75" x2="348.75" y2="721.75" stroke="#2c1c8a" stroke-width="2.2" stroke-linecap="round"/><line x1="348.75" y1="721.75" x2="361.25" y2="723.5" stroke="#2c1c8a" stroke-width="2.2" stroke-linecap="round"/><line x1="361.25" y1="723.5" x2="373.75" y2="723.5" stroke="#2c1c8a" stroke-width="2.2" stroke-linecap="round"/><line x1="373.75" y1="723.5" x2="386.25" y2="719" stroke="#2c1c8a" stroke-width="2.2" stroke-linecap="round"/><line x1="386.25" y1="719" x2="412.5" y2="695.5" stroke="#2a9a16" stroke-width="2.2" stroke-linecap="round"/><line x1="412.5" y1="695.5" x2="425" y2="686.5" stroke="#2a9a16" stroke-width="2.2" stroke-linecap="round"/><line x1="425" y1="686.5" x2="437.5" y2="685" stroke="#2a9a16" stroke-width="2.2" stroke-linecap="round"/><line x1="437.5" y1="685" x2="450" y2="687" stroke="#2a9a16" stroke-width="2.2" stroke-linecap="round"/><line x1="450" y1="687" x2="462.5" y2="688" stroke="#2a9a16" stroke-width="2.2" stroke-linecap="round"/><line x1="462.5" y1="688" x2="475" y2="688" stroke="#2a9a16" stroke-width="2.2" stroke-linecap="round"/><line x1="475" y1="688" x2="488.75" y2="689" stroke="#2a9a16" stroke-width="2.2" stroke-linecap="round"/><line x1="488.75" y1="689" x2="502.5" y2="694.5" stroke="#2a9a16" stroke-width="2.2" stroke-linecap="round"/><line x1="502.5" y1="694.5" x2="515" y2="703.75" stroke="#2a9a16" stroke-width="2.2" stroke-linecap="round"/><line x1="515" y1="703.75" x2="526.25" y2="712.5" stroke="#2a9a16" stroke-width="2.2" stroke-linecap="round"/><line x1="526.25" y1="712.5" x2="540" y2="717.5" stroke="#2c1c8a" stroke-width="2.2" stroke-linecap="round"/><line x1="540" y1="717.5" x2="552.5" y2="719.5" stroke="#2c1c8a" stroke-width="2.2" stroke-linecap="round"/><line x1="552.5" y1="719.5" x2="565" y2="720.75" stroke="#2c1c8a" stroke-width="2.2" stroke-linecap="round"/><line x1="565" y1="720.75" x2="577.5" y2="722.5" stroke="#2c1c8a" stroke-width="2.2" stroke-linecap="round"/><line x1="577.5" y1="722.5" x2="590" y2="720" stroke="#2c1c8a" stroke-width="2.2" stroke-linecap="round"/><line x1="590" y1="720" x2="602.5" y2="718" stroke="#2c1c8a" stroke-width="2.2" stroke-linecap="round"/><line x1="602.5" y1="718" x2="616.25" y2="714.5" stroke="#2c1c8a" stroke-width="2.2" stroke-linecap="round"/><line x1="616.25" y1="714.5" x2="628.75" y2="712.5" stroke="#2a9a16" stroke-width="2.2" stroke-linecap="round"/><line x1="628.75" y1="712.5" x2="641.25" y2="708" stroke="#2a9a16" stroke-width="2.2" stroke-linecap="round"/><line x1="641.25" y1="708" x2="653.75" y2="702" stroke="#2a9a16" stroke-width="2.2" stroke-linecap="round"/><line x1="653.75" y1="702" x2="666.25" y2="696.5" stroke="#2a9a16" stroke-width="2.2" stroke-linecap="round"/><line x1="666.25" y1="696.5" x2="678.75" y2="699.5" stroke="#2a9a16" stroke-width="2.2" stroke-linecap="round"/><line x1="678.75" y1="699.5" x2="691.25" y2="708.75" stroke="#2a9a16" stroke-width="2.2" stroke-linecap="round"/><line x1="691.25" y1="708.75" x2="703.75" y2="725" stroke="#2c1c8a" stroke-width="2.2" stroke-linecap="round"/><line x1="703.75" y1="725" x2="716.25" y2="739.5" stroke="#ee1010" stroke-width="2.2" stroke-linecap="round"/><line x1="716.25" y1="739.5" x2="730" y2="748" stroke="#ee1010" stroke-width="2.2" stroke-linecap="round"/><line x1="730" y1="748" x2="742" y2="756.4" stroke="#ee1010" stroke-width="2.2" stroke-linecap="round"/><line x1="742" y1="756.4" x2="755.5" y2="762.4" stroke="#ee1010" stroke-width="2.2" stroke-linecap="round"/><line x1="755.5" y1="762.4" x2="767.5" y2="764.5" stroke="#ee1010" stroke-width="2.2" stroke-linecap="round"/><line x1="767.5" y1="764.5" x2="779.5" y2="760" stroke="#ee1010" stroke-width="2.2" stroke-linecap="round"/><line x1="779.5" y1="760" x2="793" y2="753.4" stroke="#ee1010" stroke-width="2.2" stroke-linecap="round"/><line x1="793" y1="753.4" x2="805" y2="749.5" stroke="#ee1010" stroke-width="2.2" stroke-linecap="round"/><line x1="805" y1="749.5" x2="817" y2="748" stroke="#ee1010" stroke-width="2.2" stroke-linecap="round"/><line x1="817" y1="748" x2="832" y2="748.6" stroke="#ee1010" stroke-width="2.2" stroke-linecap="round"/><line x1="832" y1="748.6" x2="845.5" y2="750.4" stroke="#ee1010" stroke-width="2.2" stroke-linecap="round"/><line x1="845.5" y1="750.4" x2="856" y2="754" stroke="#ee1010" stroke-width="2.2" stroke-linecap="round"/><line x1="856" y1="754" x2="868" y2="758.5" stroke="#ee1010" stroke-width="2.2" stroke-linecap="round"/><line x1="868" y1="758.5" x2="882.4" y2="763.6" stroke="#ee1010" stroke-width="2.2" stroke-linecap="round"/>
<polyline points="71.00,739.60 95.00,749.50 122.50,760.00 147.50,760.50 182.50,757.50 212.50,759.50 240.00,759.50 260.00,757.50 285.00,750.50 310.00,740.00 336.25,729.25 361.25,724.50 386.25,721.25 412.50,715.00 437.50,702.50 462.50,692.00 487.50,687.50 502.50,688.75 526.25,695.50 552.50,706.25 577.50,715.50 602.50,719.50 628.75,718.00 653.75,713.00 678.75,706.25 691.25,704.50 703.75,707.00 718.00,712.00 730.00,721.00 743.50,733.00 755.50,745.00 767.50,752.50 779.50,757.00 793.00,758.00 817.00,756.40 832.00,753.40 845.50,750.40 862.00,751.00 882.40,754.00" fill="none" stroke="#c8c8c8" stroke-width="2" stroke-dasharray="5.5,3"/>
<text x="67" y="688" font-size="13" fill="#111" text-anchor="end">100</text>
<text x="67" y="713" font-size="13" fill="#111" text-anchor="end">60</text>
<text x="67" y="732" font-size="13" fill="#111" text-anchor="end">40</text>
<text x="67" y="771" font-size="13" fill="#111" text-anchor="end">0</text>
<text x="897.5" y="683.6" font-size="12" fill="#111">EST. %</text>
<text x="897.5" y="694.1" font-size="12" fill="#111">FULL</text>
<text x="897.5" y="705.2" font-size="12" fill="#111">(28,3,6)</text>
<text x="899.5" y="752.8" font-size="13" fill="#c8c8c8">18,37</text>
<text x="899.5" y="762.4" font-size="13" fill="#1c1cf0">8,05</text>
<rect x="953.5" y="36.5" width="32" height="21" fill="url(#btng)" stroke="#9c9c9c" stroke-width="1"/>
<circle cx="967.5" cy="44.5" r="4.6" fill="#c8c8c8" stroke="#1a1a1a" stroke-width="1.5"/><line x1="970.8" y1="47.8" x2="975" y2="52.2" stroke="#1a1a1a" stroke-width="2.2"/>
<rect x="953.5" y="61.5" width="32" height="21" fill="#f4f2fb" stroke="#aaa" stroke-width="1"/>
<path d="M955,82 L955,63 L957,70 L959,76 L961,69 L963,82 L966,82 L968,74 L970,65 L972,78 L974,82 L978,82 L981,74 L984,82 Z" fill="#4a54b0"/>
<path d="M955,67 L957,71 L962,72 L967,72 L970,70 L973,74 L975,71 L977,75 L980,72 L984,72" stroke="#e01010" stroke-width="1" fill="none"/>
<path d="M963.5,62 V82 M974.5,62 V82" stroke="#fff" stroke-width="1" opacity="0.7"/>
<rect x="953.5" y="85.5" width="32" height="21" fill="url(#btng)" stroke="#9c9c9c" stroke-width="1"/>
<line x1="957" y1="95.5" x2="981" y2="95.5" stroke="#e63232" stroke-width="2"/>
<rect x="953.5" y="110.5" width="32" height="21" fill="url(#btng)" stroke="#9c9c9c" stroke-width="1"/>
<line x1="957" y1="120.5" x2="981" y2="120.5" stroke="#2a44f0" stroke-width="2"/>
<rect x="953.5" y="135.5" width="32" height="21" fill="url(#btng)" stroke="#9c9c9c" stroke-width="1"/>
<path d="M957.3,151.5 L972.9,135.4 M965.1,156.4 L980.7,140.8" stroke="#222" stroke-width="1"/>
<path d="M962.8,146.6 L965.3,156 L967,146 L970.5,153 L972.5,142 L976,149 L974.5,137 L980,141" stroke="#3535e0" stroke-width="1" fill="none"/>
<rect x="953.5" y="160.5" width="32" height="21" fill="url(#btng)" stroke="#9c9c9c" stroke-width="1"/>
<path d="M958.3,181.3 L979.8,160.3" stroke="#111" stroke-width="1.4"/>
<path d="M961.2,174.2 L965.6,173.8 L966.7,178.4 M972.6,160.8 L972.9,166.6 L978.8,166.1" stroke="#2d2de0" stroke-width="1.5" fill="none"/>
<rect x="953.5" y="185.5" width="32" height="21" fill="url(#btng)" stroke="#9c9c9c" stroke-width="1"/>
<path d="M958.3,206.3 L979.8,185.3" stroke="#111" stroke-width="1.4"/>
<path d="M961.2,199.2 L965.6,198.8 L966.7,203.4 M972.6,185.8 L972.9,191.6 L978.8,191.1" stroke="#2d2de0" stroke-width="1.5" fill="none"/>
<path d="M965.8,189.8 H959 L962.2,193.3 L959,196.8 H966" stroke="#e02828" stroke-width="1.6" fill="none"/>
<rect x="953.5" y="210.5" width="32" height="21" fill="url(#btng)" stroke="#9c9c9c" stroke-width="1"/>
<path d="M967.5,216.5 h3.5 v5 h3.5 l-5.25,6 l-5.25,-6 h3.5 z" fill="#f01010"/>
<rect x="953.5" y="235.5" width="32" height="21" fill="url(#btng)" stroke="#9c9c9c" stroke-width="1"/>
<path d="M967.5,251 h3.5 v-5 h3.5 l-5.25,-6 l-5.25,6 h3.5 z" fill="#1010f0"/>
<rect x="953.5" y="260.5" width="32" height="21" fill="url(#btng)" stroke="#9c9c9c" stroke-width="1"/>
<path d="M957,270.5 h9 M961.3,266 v9" stroke="#5a9a3a" stroke-width="3.2"/><path d="M957.5,270.5 h8 M961.3,266.5 v8" stroke="#9ad46a" stroke-width="1.6"/>
<path d="M971,266.3 h3 v3 h4.3 l-5.6,6.7 l-5.6,-6.7 h3.9 z" fill="#e82018"/>
<rect x="979" y="273" width="4" height="4" transform="rotate(45 981 275)" fill="none" stroke="#e82018" stroke-width="1"/>
<rect x="953.5" y="285.5" width="32" height="21" fill="#ededed"/>
<path d="M955.5,285.5 h-2 v21 h2 M983.5,285.5 h2 v21 h-2" stroke="#bbb" stroke-width="1" fill="none"/>
<path d="M957,292 h7 M966,292 h7 M975.2,292 h6 M957,297 h7 M966,297 h7 M975.2,297 h6 M957,302 h7 M966,302 h7 M975.2,302 h6" stroke="#333" stroke-width="2.2"/>
<rect x="953.5" y="311.5" width="32" height="21" fill="#ededed"/>
<path d="M955.5,311.5 h-2 v21 h2 M983.5,311.5 h2 v21 h-2" stroke="#bbb" stroke-width="1" fill="none"/>
<path d="M956,313.6 h16 M956,330.4 h16 M963.7,316 v12" stroke="#1414f0" stroke-width="1.5"/><path d="M960.5,318.5 l3.2,-4.5 l3.2,4.5 z M960.5,325.5 l3.2,4.5 l3.2,-4.5 z" fill="#1414f0"/>
<path d="M980.7,315.6 L973.9,329.7" stroke="#111" stroke-width="1.3"/>
<ellipse cx="975.35" cy="318.42" rx="1.3260000000000116" ry="1.691999999999996" fill="none" stroke="#111" stroke-width="1.3"/>
<ellipse cx="979.25" cy="326.88" rx="1.3260000000000116" ry="1.691999999999996" fill="none" stroke="#111" stroke-width="1.3"/>
<rect x="953.5" y="335.75" width="32" height="20.30000000000001" fill="url(#btng)" stroke="#9c9c9c" stroke-width="1"/>
<path d="M958.5,340.5 h12.5" stroke="#2e6af5" stroke-width="1.5"/><path d="M958.5,346.1 h12.5" stroke="#111" stroke-width="1.6"/><path d="M958.5,352.0 h12.5" stroke="#ee3a2a" stroke-width="2"/>
<path d="M980.1,339.85 L972.8,353.55" stroke="#111" stroke-width="1.3"/>
<ellipse cx="974.375" cy="342.59000000000003" rx="1.4110000000000118" ry="1.6439999999999986" fill="none" stroke="#111" stroke-width="1.3"/>
<ellipse cx="978.525" cy="350.81" rx="1.4110000000000118" ry="1.6439999999999986" fill="none" stroke="#111" stroke-width="1.3"/>
<rect x="953.5" y="361.5" width="32" height="20.5" fill="url(#btng)" stroke="#9c9c9c" stroke-width="1"/>
<rect x="960" y="363" width="19" height="18" fill="#d9d9e6"/>
<circle cx="969.5" cy="372" r="7.3" fill="#f2dada" stroke="url(#nog)" stroke-width="2.6"/><line x1="964.6" y1="367.1" x2="974.4" y2="376.9" stroke="#b81818" stroke-width="2.6"/>
<rect x="953.5" y="386.0" width="32" height="20.0" fill="url(#btng)" stroke="#9c9c9c" stroke-width="1"/>
<circle cx="969" cy="396" r="6" fill="url(#rcg)"/>
<rect x="953.5" y="409.0" width="32" height="20.5" fill="url(#btng)" stroke="#9c9c9c" stroke-width="1"/>
<path d="M963.5,418 Q965,413 972,413.5" stroke="#2a6ae0" stroke-width="2.6" fill="none"/><path d="M971,410 l6,3.8 l-6,3.5 z" fill="#2a6ae0"/>
<path d="M974.5,420.5 Q973,425.5 966,425" stroke="#2a6ae0" stroke-width="2.6" fill="none"/><path d="M967,428.5 l-6,-3.8 l6,-3.5 z" fill="#2a6ae0"/>
<circle cx="968.8" cy="472.8" r="6.6" fill="#fff" stroke="#c4c4c4" stroke-width="1"/>
<rect x="953.5" y="487.5" width="32" height="20.30000000000001" fill="#fff" stroke="#9c9c9c" stroke-width="1"/>
<path d="M961,492.8 h5 v2.6 h3 l-5.5,7.6 l-5.5,-7.6 h3 z" fill="#e02018"/><path d="M973.8,503 h5 v-2.6 h3.2 l-5.65,-7.6 l-5.65,7.6 h3.1 z" fill="#72c24a"/>
<rect x="953.5" y="513.9" width="32" height="20.299999999999955" fill="url(#btng)" stroke="#9c9c9c" stroke-width="1"/>
<path d="M958.5,518.65 h12.5" stroke="#2e6af5" stroke-width="1.5"/><path d="M958.5,524.25 h12.5" stroke="#111" stroke-width="1.6"/><path d="M958.5,530.15 h12.5" stroke="#ee3a2a" stroke-width="2"/>
<path d="M980.1,518.0 L972.8,531.6999999999999" stroke="#111" stroke-width="1.3"/>
<ellipse cx="974.375" cy="520.74" rx="1.4110000000000118" ry="1.6439999999999917" fill="none" stroke="#111" stroke-width="1.3"/>
<ellipse cx="978.525" cy="528.9599999999999" rx="1.4110000000000118" ry="1.6439999999999917" fill="none" stroke="#111" stroke-width="1.3"/>
<rect x="953.5" y="541.7" width="32" height="20.5" fill="url(#btng)" stroke="#9c9c9c" stroke-width="1"/>
<path d="M957.5,555.2 h26" stroke="#3a9a3a" stroke-width="1" stroke-dasharray="2,3"/>
<path d="M977.5,553.2 v7" stroke="#5a6af0" stroke-width="0.8"/>
<path d="M955.5,545.7 Q961,551.2 966.8,559.7 L977.8,542.0" stroke="#1a2af0" stroke-width="1.9" fill="none"/>
<path d="M955,544.2 Q962,545.2 966,552.2 Q969,558.2 972.5,554.7 L981.5,542.0" stroke="#e02020" stroke-width="1.9" fill="none"/>
<circle cx="968.8" cy="579.4" r="6.6" fill="#fff" stroke="#c4c4c4" stroke-width="1"/>
<circle cx="968.8" cy="579.4" r="3.2" fill="#111"/>
<rect x="953.5" y="595.8" width="32" height="20.299999999999955" fill="#fff" stroke="#9c9c9c" stroke-width="1"/>
<path d="M961,601.0999999999999 h5 v2.6 h3 l-5.5,7.6 l-5.5,-7.6 h3 z" fill="#e02018"/><path d="M973.8,611.3 h5 v-2.6 h3.2 l-5.65,-7.6 l-5.65,7.6 h3.1 z" fill="#72c24a"/>
<rect x="953.5" y="619.8" width="32" height="20.299999999999955" fill="url(#btng)" stroke="#9c9c9c" stroke-width="1"/>
<path d="M958.5,624.55 h12.5" stroke="#2e6af5" stroke-width="1.5"/><path d="M958.5,630.15 h12.5" stroke="#111" stroke-width="1.6"/><path d="M958.5,636.05 h12.5" stroke="#ee3a2a" stroke-width="2"/>
<path d="M980.1,623.9 L972.8,637.5999999999999" stroke="#111" stroke-width="1.3"/>
<ellipse cx="974.375" cy="626.64" rx="1.4110000000000118" ry="1.6439999999999917" fill="none" stroke="#111" stroke-width="1.3"/>
<ellipse cx="978.525" cy="634.8599999999999" rx="1.4110000000000118" ry="1.6439999999999917" fill="none" stroke="#111" stroke-width="1.3"/>
<rect x="953.5" y="643.7" width="32" height="20.5" fill="url(#btng)" stroke="#9c9c9c" stroke-width="1"/>
<path d="M957.5,657.2 h26" stroke="#3a9a3a" stroke-width="1" stroke-dasharray="2,3"/>
<path d="M977.5,655.2 v7" stroke="#5a6af0" stroke-width="0.8"/>
<path d="M955.5,647.7 Q961,653.2 966.8,661.7 L977.8,644.0" stroke="#1a2af0" stroke-width="1.9" fill="none"/>
<path d="M955,646.2 Q962,647.2 966,654.2 Q969,660.2 972.5,656.7 L981.5,644.0" stroke="#e02020" stroke-width="1.9" fill="none"/>
<circle cx="968.8" cy="682.3" r="6.6" fill="#fff" stroke="#c4c4c4" stroke-width="1"/>
<rect x="953.5" y="697.7" width="32" height="20.299999999999955" fill="#fff" stroke="#9c9c9c" stroke-width="1"/>
<path d="M961,703.0 h5 v2.6 h3 l-5.5,7.6 l-5.5,-7.6 h3 z" fill="#e02018"/><path d="M973.8,713.2 h5 v-2.6 h3.2 l-5.65,-7.6 l-5.65,7.6 h3.1 z" fill="#72c24a"/>
<rect x="953.5" y="722.3" width="32" height="20.299999999999955" fill="url(#btng)" stroke="#9c9c9c" stroke-width="1"/>
<path d="M958.5,727.05 h12.5" stroke="#2e6af5" stroke-width="1.5"/><path d="M958.5,732.65 h12.5" stroke="#111" stroke-width="1.6"/><path d="M958.5,738.55 h12.5" stroke="#ee3a2a" stroke-width="2"/>
<path d="M980.1,726.4 L972.8,740.0999999999999" stroke="#111" stroke-width="1.3"/>
<ellipse cx="974.375" cy="729.14" rx="1.4110000000000118" ry="1.6439999999999917" fill="none" stroke="#111" stroke-width="1.3"/>
<ellipse cx="978.525" cy="737.3599999999999" rx="1.4110000000000118" ry="1.6439999999999917" fill="none" stroke="#111" stroke-width="1.3"/>
<rect x="953.5" y="747.3" width="32" height="20.5" fill="url(#btng)" stroke="#9c9c9c" stroke-width="1"/>
<path d="M957.5,760.8 h26" stroke="#3a9a3a" stroke-width="1" stroke-dasharray="2,3"/>
<path d="M977.5,758.8 v7" stroke="#5a6af0" stroke-width="0.8"/>
<path d="M955.5,751.3 Q961,756.8 966.8,765.3 L977.8,747.5999999999999" stroke="#1a2af0" stroke-width="1.9" fill="none"/>
<path d="M955,749.8 Q962,750.8 966,757.8 Q969,763.8 972.5,760.3 L981.5,747.5999999999999" stroke="#e02020" stroke-width="1.9" fill="none"/>
<rect x="919.5" y="776.5" width="66" height="18" fill="#fff" stroke="#c4c4c4" stroke-width="1"/>
<rect x="919.6" y="776.4" width="65.3" height="17.5" fill="#ee0d0d"/>
<text x="923.7" y="789.6" font-size="12.5" fill="#fff" stroke="#fff" stroke-width="0.35">OFF</text>
<text x="20.5" y="790" font-size="13" fill="#111" textLength="122.5" lengthAdjust="spacingAndGlyphs" stroke="#111" stroke-width="0.35">MICROSOFT (MSFT)</text>
<text x="306" y="790" font-size="13" fill="#1c1cf0" textLength="576" lengthAdjust="spacingAndGlyphs" stroke="#1c1cf0" stroke-width="0.35">/Users/mserra/Library/CloudStorage/Dropbox/WorkDB/DatosBolsa/Configs/Config.DEFAULT.xml</text>
</svg>
</body></html>
